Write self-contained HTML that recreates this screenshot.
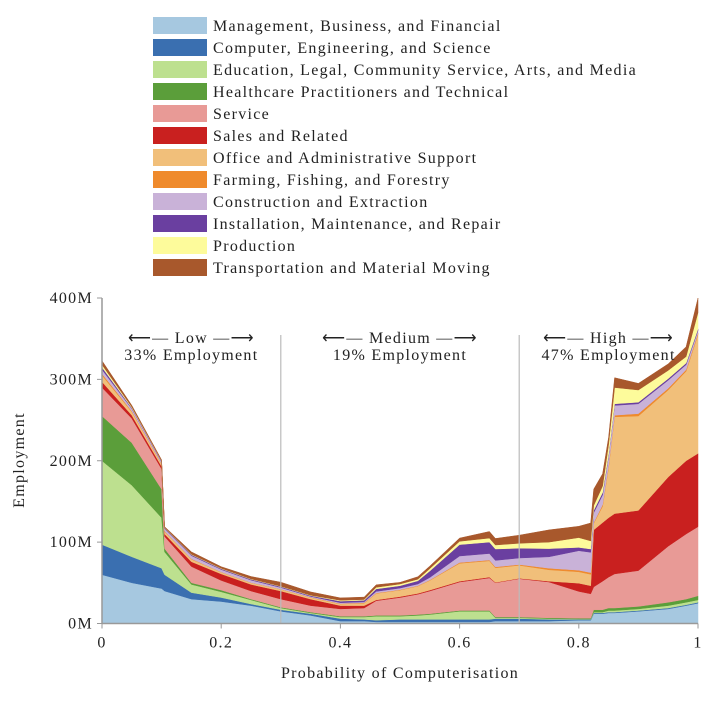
<!DOCTYPE html>
<html><head><meta charset="utf-8"><style>
body{margin:0;background:#fff;width:720px;height:708px;overflow:hidden;font-family:"Liberation Serif",serif;}
svg text{font-family:"Liberation Serif",serif;fill:#222;letter-spacing:1.3px;}
</style></head><body>
<svg id="chart" width="720" height="708" xmlns="http://www.w3.org/2000/svg"></svg>
<script>
const seriesNames=["Management, Business, and Financial","Computer, Engineering, and Science","Education, Legal, Community Service, Arts, and Media","Healthcare Practitioners and Technical","Service","Sales and Related","Office and Administrative Support","Farming, Fishing, and Forestry","Construction and Extraction","Installation, Maintenance, and Repair","Production","Transportation and Material Moving"];
const seriesColors=["#a6c8e0","#3a6fb0","#bde08f","#5b9e3a","#e89a96","#c9201f","#f1bf7a","#ef8a2c","#c9b2d8","#6a3fa0","#fdfb9b","#a8582c"];
const probs=[0,0.05,0.1,0.105,0.15,0.2,0.25,0.3,0.35,0.4,0.44,0.46,0.5,0.53,0.55,0.6,0.65,0.66,0.7,0.75,0.8,0.82,0.825,0.84,0.85,0.86,0.9,0.95,0.98,1.0];
const mgmt=   [60,50,43,40,30,27,22,15,10,3,3,2,2,2,2,2,2,3,3,3,4,4,12,12,13,13,15,18,22,25];
const comp=   [37,32,25,20,8,5,2,2,2,3,2,2,3,3,3,3,3,3,3,2,1,1,1,1,1,1,1,1,1,1];
const edu=    [103,88,62,28,10,7,5,2,1,2,3,5,4,5,6,10,10,1,1,1,0.5,0.5,1,1,2,2,2,3,3,3];
const health= [55,52,35,4,2,2,1,1,1,1,1,1,1,1,1,1,1,1,1,1,1,1,3,3,3,3,3,4,4,5];
const service=[35,30,25,15,20,12,10,10,8,9,10,18,22,25,28,35,40,42,47,44,33,30,28,35,38,42,44,69,80,85];
const sales=  [7,4,3,3,6,8,8,10,8,4,3,1,1,1,1,1,1,0.5,0.5,1,10,10,70,72,73,74,74,85,90,90];
const office= [8,4,3,3,3,2,2,2,2,2,3,8,8,9,12,22,20,18,16,14,14,14,8,20,62,119,116,107,110,146];
const farm=   [2,1,0.5,0.5,0.5,0.3,0.3,0.3,0.3,0.5,0.5,0.5,0.5,0.5,0.5,1,1,1,1,2,2,2,1,2,2,2,3,2,2,2];
const constr= [5,3,2,3,4,3,3,2,1,1,1,2,2,2,3,8,8,8,8,14,24,25,12,12,12,12,12,10,6,3];
const install=[3,1,1,1,1,1,1,1,1,2,2,3,3,4,8,14,14,14,12,10,4,4,3,3,2,2,2,2,2,2];
const prod=   [3,1,0.5,0.5,0.5,0.5,0.5,0.5,0.5,1,1,2,2,2,3,4,5,5,6,8,12,10,6,8,12,20,15,10,8,20];
const trans=  [5,2,1,1,3,2,3,5,4,3,3,3,2,3,3,4,8,8,10,15,14,22,20,15,9,12,8,8,12,18];
const yTicks=[0,100,200,300,400];
const yTickLabels=["0M","100M","200M","300M","400M"];
const xTicks=[0,0.2,0.4,0.6,0.8,1];
const xTickLabels=["0","0.2","0.4","0.6","0.8","1"];
const series=[mgmt,comp,edu,health,service,sales,office,farm,constr,install,prod,trans];

const NS="http://www.w3.org/2000/svg";
const svg=document.getElementById('chart');
const X0=102,X1=698,Y0=623.5,Y1=298;
function xs(p){return X0+(X1-X0)*p;}
function ys(v){return Y0-(Y0-Y1)*v/400;}
function mk(tag,attrs,parent){const e=document.createElementNS(NS,tag);for(const k in attrs)e.setAttribute(k,attrs[k]);(parent||svg).appendChild(e);return e;}

// legend
series.forEach((s,i)=>{
  const g=mk('g',{});
  
  
  const y=17+i*22;
  mk('rect',{x:153,y:y,width:54,height:17,fill:seriesColors[i]},g);
  const t=mk('text',{x:213,y:y+14,'font-size':16},g);
  t.textContent=seriesNames[i];
});

// stacked areas
const cum=probs.map(()=>0);
series.forEach((s,i)=>{
  const lower=cum.slice();
  probs.forEach((p,j)=>{cum[j]+=s[j];});
  let d='M'+probs.map((p,j)=>xs(p).toFixed(1)+','+ys(cum[j]).toFixed(1)).join('L');
  for(let j=probs.length-1;j>=0;j--)d+='L'+xs(probs[j]).toFixed(1)+','+ys(lower[j]).toFixed(1);
  const path=mk('path',{d:d+'Z',fill:seriesColors[i],stroke:seriesColors[i],'stroke-width':0.5});
  
  
});

// divider lines
[0.3,0.7].forEach(p=>{
  const l=mk('line',{x1:xs(p),x2:xs(p),y1:335,y2:Y0,stroke:'#bbb','stroke-width':1.2});
  
  
});

// axes
const ya=mk('line',{x1:X0,x2:X0,y1:Y1,y2:Y0,stroke:'#999','stroke-width':1.5});


const xa=mk('line',{x1:X0,x2:X1,y1:Y0,y2:Y0,stroke:'#999','stroke-width':1.5});


yTicks.forEach((v,i)=>{
  mk('line',{x1:X0-5,x2:X0,y1:ys(v),y2:ys(v),stroke:'#999'});
  const t=mk('text',{x:X0-9,y:ys(v)+5,'font-size':16,'text-anchor':'end'});
  
  
  t.textContent=yTickLabels[i];
});
xTicks.forEach((v,i)=>{
  mk('line',{x1:xs(v),x2:xs(v),y1:Y0,y2:Y0+5,stroke:'#999'});
  const t=mk('text',{x:xs(v),y:Y0+24,'font-size':16,'text-anchor':'middle'});
  
  
  t.textContent=xTickLabels[i];
});
const xt=mk('text',{x:400,y:678,'font-size':16,'text-anchor':'middle'});


xt.textContent='Probability of Computerisation';
const yt=mk('text',{x:24,y:460,'font-size':16,'text-anchor':'middle',transform:'rotate(-90 24 460)'});


yt.textContent='Employment';

// region annotations
[[0.15,'Low','33% Employment'],[0.5,'Medium','19% Employment'],[0.85,'High','47% Employment']].forEach(r=>{
  const g=mk('g',{});
  
  
  const cx=xs(r[0]);
  const t1=mk('text',{x:cx,y:343,'font-size':16,'text-anchor':'middle'},g);
  t1.textContent='\u27f5\u2014 '+r[1]+' \u2014\u27f6';
  const t2=mk('text',{x:cx,y:360,'font-size':16,'text-anchor':'middle'},g);
  t2.textContent=r[2];
});
</script>
</body></html>
